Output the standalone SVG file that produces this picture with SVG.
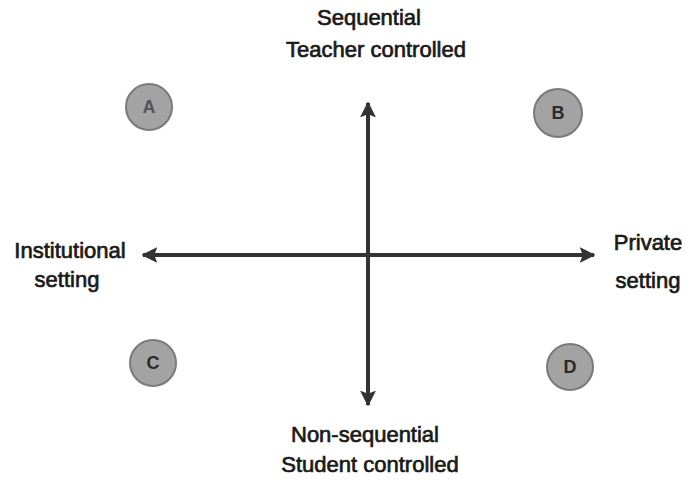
<svg xmlns="http://www.w3.org/2000/svg" width="686" height="483" viewBox="0 0 686 483">
<style>
.lbl{font-family:"Liberation Sans",Arial,sans-serif;font-size:22px;fill:#1a1a1a;stroke:#1a1a1a;stroke-width:0.7;text-anchor:middle}
.node circle{fill:#a3a3a3;stroke:#7a7a7a;stroke-width:2}
.node text{font-family:"Liberation Sans",Arial,sans-serif;font-size:18px;font-weight:bold;text-anchor:middle;fill:#2a2a2a}
.ax{stroke:#333;stroke-width:4;fill:none}
</style>
<defs>
<marker id="ah" viewBox="0 0 10 10" refX="9" refY="5" markerWidth="4" markerHeight="4" orient="auto-start-reverse" markerUnits="strokeWidth">
<path d="M0,0 L10,5 L0,10 L2,5 Z" fill="#333"/>
</marker>
</defs>
<rect width="686" height="483" fill="#fff"/>
<g id="connectors">
<line class="ax" x1="368" y1="103" x2="368" y2="405" marker-start="url(#ah)" marker-end="url(#ah)"/>
<line class="ax" x1="143" y1="255" x2="594" y2="255" marker-start="url(#ah)" marker-end="url(#ah)"/>
</g>
<g id="node-A" class="node"><circle cx="149" cy="107" r="23"/><text x="149" y="113" style="fill:#555">A</text></g>
<g id="node-B" class="node"><circle cx="558" cy="113" r="24"/><text x="558" y="119">B</text></g>
<g id="node-C" class="node"><circle cx="153" cy="363" r="23"/><text x="153" y="369">C</text></g>
<g id="node-D" class="node"><circle cx="570" cy="367" r="23"/><text x="570" y="373">D</text></g>
<g id="label-top">
<text class="lbl" x="369" y="25">Sequential</text>
<text class="lbl" x="376" y="57">Teacher controlled</text>
</g>
<g id="label-left">
<text class="lbl" x="70" y="258">Institutional</text>
<text class="lbl" x="67" y="287">setting</text>
</g>
<g id="label-right">
<text class="lbl" x="648" y="250">Private</text>
<text class="lbl" x="648" y="288">setting</text>
</g>
<g id="label-bottom">
<text class="lbl" x="365" y="442">Non-sequential</text>
<text class="lbl" x="370" y="472">Student controlled</text>
</g>
</svg>
